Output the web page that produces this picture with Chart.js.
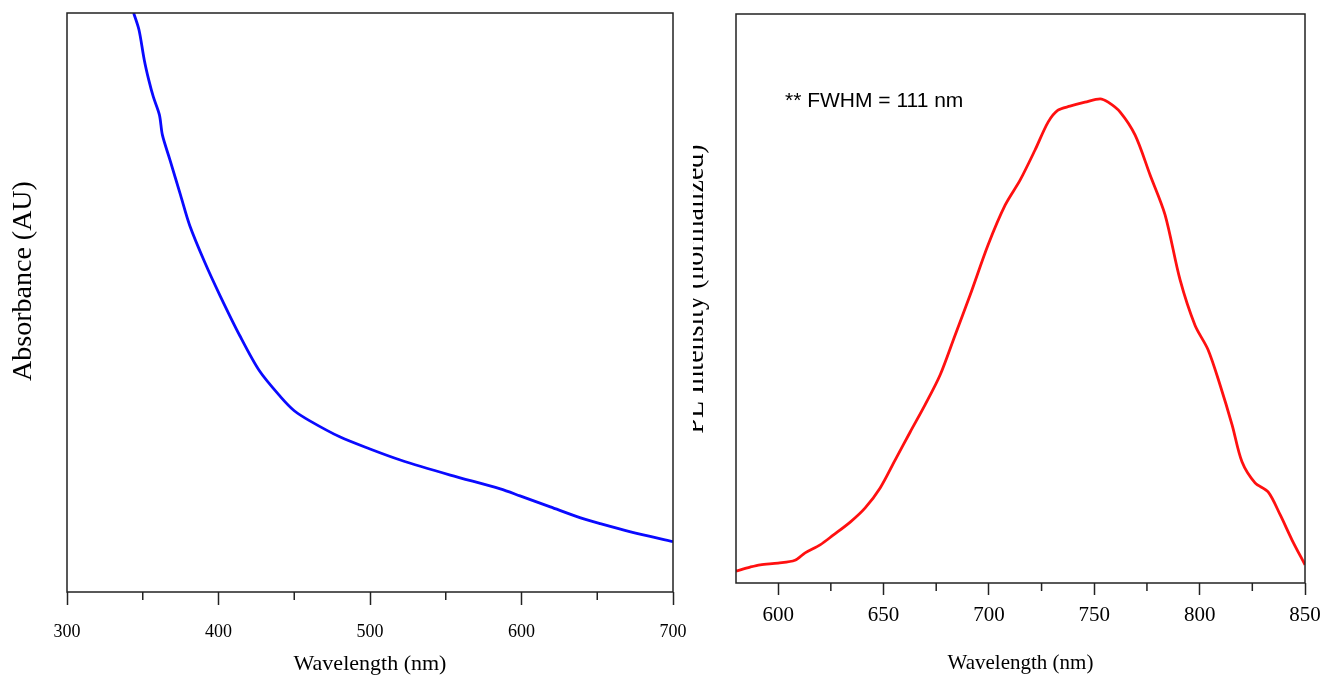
<!DOCTYPE html>
<html>
<head>
<meta charset="utf-8">
<title>Absorbance and PL spectra</title>
<script src="https://cdn.jsdelivr.net/npm/chart.js@4/dist/chart.umd.min.js"></script>
<style>
  html, body { margin: 0; padding: 0; background: #fff; }
  .panel { position: absolute; top: 0; height: 683px; }
  #leftBox { left: 0; width: 690px; }
  #rightBox { left: 693px; width: 631px; }
</style>
</head>
<body>
<div class="panel" id="leftBox"><canvas id="absChart"></canvas></div>
<div class="panel" id="rightBox"><canvas id="plChart"></canvas></div>
<script>
// absorbance spectrum (left)
const absWavelength = [344, 347.5, 351, 354, 357, 361, 363, 368, 375, 381, 391, 401, 414, 427, 441, 450, 460, 480, 500, 520, 553, 586, 599, 619, 639, 652, 672, 700];
const absorbance = [100, 97.1, 91.9, 88.4, 85.5, 82.4, 78.9, 74.6, 68.5, 63.3, 56.9, 51.2, 44.3, 38.2, 33.7, 31.3, 29.6, 26.8, 24.7, 22.8, 20.2, 17.8, 16.6, 14.7, 12.8, 11.8, 10.4, 8.7];
const absTicks = [300, 400, 500, 600, 700];
const absMinorTicks = [350, 450, 550, 650];

// PL spectrum (right)
const plWavelength = [580, 586.7, 591.5, 600, 608, 612.8, 619.9, 626.1, 634.2, 641.3, 648.4, 655.5, 662.6, 669.7, 676.9, 684, 691.1, 699.6, 707.7, 714.8, 721.9, 728.1, 732.8, 738.5, 745.6, 752.8, 756.6, 762.2, 769.4, 776.5, 783.6, 790.7, 797.8, 804, 809.7, 815.4, 820.1, 826.3, 832.5, 838.2, 843.8, 850];
const plIntensity = [0.021, 0.028, 0.032, 0.035, 0.040, 0.053, 0.067, 0.084, 0.107, 0.132, 0.167, 0.216, 0.265, 0.313, 0.366, 0.436, 0.506, 0.594, 0.664, 0.708, 0.761, 0.810, 0.831, 0.838, 0.845, 0.851, 0.845, 0.828, 0.787, 0.717, 0.647, 0.533, 0.453, 0.410, 0.348, 0.278, 0.213, 0.176, 0.160, 0.120, 0.076, 0.032];
const plTicks = [600, 650, 700, 750, 800, 850];
const plMinorTicks = [625, 675, 725, 775, 825];

const SERIF = "'Liberation Serif', 'Times New Roman', serif";
const SANS = "'Liberation Sans', Arial, sans-serif";
const INK = "#222";

const toPoints = (xs, ys) => xs.map((x, i) => ({ x: x, y: ys[i] }));

// frame, minor ticks, rotated y title and free text
const framePlugin = {
  id: "frame",
  afterDraw(chart, args, opts) {
    const { ctx, chartArea: a } = chart;
    const xs = chart.scales.x;
    ctx.save();
    ctx.strokeStyle = INK;
    ctx.lineWidth = 1.5;
    ctx.strokeRect(a.left, a.top, a.right - a.left, a.bottom - a.top);
    ctx.beginPath();
    (opts.minor || []).forEach((v) => {
      const px = xs.getPixelForValue(v);
      ctx.moveTo(px, a.bottom);
      ctx.lineTo(px, a.bottom + opts.minorLength);
    });
    ctx.stroke();

    if (opts.yTitle) {
      ctx.save();
      ctx.translate(opts.yTitleX, opts.yTitleY);
      ctx.rotate(-Math.PI / 2);
      ctx.font = opts.yTitleFont;
      ctx.fillStyle = "#000";
      ctx.textAlign = "center";
      ctx.textBaseline = "alphabetic";
      ctx.fillText(opts.yTitle, 0, 0);
      ctx.restore();
    }
    if (opts.note) {
      ctx.font = opts.noteFont;
      ctx.fillStyle = "#000";
      ctx.textAlign = "left";
      ctx.textBaseline = "middle";
      ctx.fillText(opts.note, a.left + opts.noteDx, opts.noteY);
    }
    ctx.restore();
  },
};

function makeChart(el, cfg) {
  return new Chart(el, {
    type: "line",
    data: {
      datasets: [{
        data: toPoints(cfg.xs, cfg.ys),
        borderColor: cfg.color,
        borderWidth: 2.8,
        pointRadius: 0,
        tension: 0.3,
        fill: false,
      }],
    },
    options: {
      responsive: true,
      maintainAspectRatio: false,
      animation: false,
      layout: { padding: cfg.padding },
      plugins: {
        legend: { display: false },
        tooltip: { enabled: false },
        frame: cfg.frame,
      },
      scales: {
        x: {
          type: "linear",
          min: cfg.xMin,
          max: cfg.xMax,
          afterBuildTicks: (s) => { s.ticks = cfg.ticks.map((v) => ({ value: v })); },
          afterFit: (s) => {
            s.height = cfg.xHeight;
            s.paddingLeft = 0;
            s.paddingRight = 0;
          },
          border: { display: false },
          grid: {
            drawOnChartArea: false,
            drawTicks: true,
            tickLength: cfg.tickLength,
            tickColor: INK,
            tickWidth: 1.5,
          },
          ticks: {
            color: "#000",
            padding: cfg.tickPad,
            maxRotation: 0,
            font: { family: SERIF, size: cfg.tickSize },
          },
          title: {
            display: true,
            text: "Wavelength (nm)",
            color: "#000",
            padding: { top: 0, bottom: cfg.titlePad },
            font: { family: SERIF, size: cfg.titleSize },
          },
        },
        y: {
          min: cfg.yMin,
          max: cfg.yMax,
          afterFit: (s) => { s.width = cfg.yWidth; },
          border: { display: false },
          grid: { display: false },
          ticks: { display: false },
        },
      },
    },
    plugins: [framePlugin],
  });
}

makeChart(document.getElementById("absChart"), {
  xs: absWavelength, ys: absorbance, color: "#0a0aff",
  xMin: 300, xMax: 700, yMin: 0, yMax: 100,
  ticks: absTicks,
  padding: { top: 13, right: 17, left: 0, bottom: 0 },
  xHeight: 91, yWidth: 67,
  tickLength: 13, tickPad: 16, tickSize: 18,
  titleSize: 22, titlePad: 6,
  frame: {
    minor: absMinorTicks, minorLength: 8,
    yTitle: "Absorbance (AU)", yTitleX: 31, yTitleY: 281,
    yTitleFont: "28px " + SERIF,
  },
});

makeChart(document.getElementById("plChart"), {
  xs: plWavelength, ys: plIntensity, color: "#ff1010",
  xMin: 580, xMax: 850, yMin: 0, yMax: 1,
  ticks: plTicks,
  padding: { top: 14, right: 19, left: 0, bottom: 0 },
  xHeight: 100, yWidth: 43,
  tickLength: 12, tickPad: 8, tickSize: 21,
  titleSize: 21, titlePad: 7,
  frame: {
    minor: plMinorTicks, minorLength: 8,
    yTitle: "PL Intensity (normalized)", yTitleX: 10, yTitleY: 289,
    yTitleFont: "28px " + SERIF,
    note: "** FWHM = 111 nm", noteDx: 49, noteY: 101,
    noteFont: "21px " + SANS,
  },
});
</script>
</body>
</html>
